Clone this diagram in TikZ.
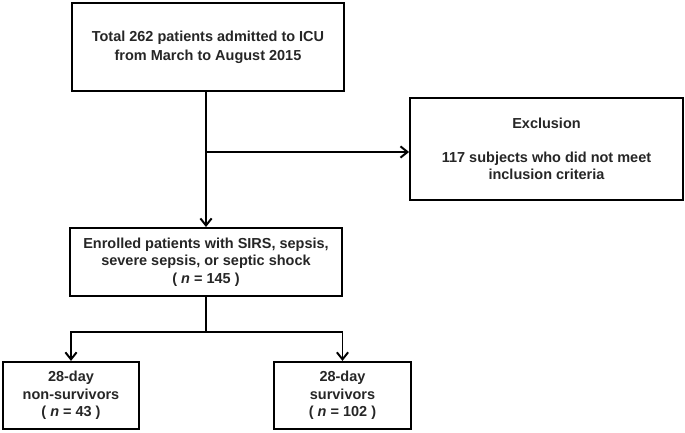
\documentclass[tikz,border=0pt]{standalone}
\usepackage{fontspec}
\setmainfont{Liberation Sans}
\usepackage{tikz}
\usetikzlibrary{positioning, calc, arrows.meta}
\newcommand{\nn}{\textit{n}}

\begin{document}
\begin{tikzpicture}[x=0.025cm, y=-0.025cm,
    flowbox/.style={draw, line width=1.4pt, align=center, inner sep=2pt,
      font=\fontsize{10.3}{12.3}\selectfont\bfseries, text=black!85},
    flowline/.style={line width=1.4pt, -{Straight Barb[length=5pt, width=8pt, line width=1.4pt]}}]
      \useasboundingbox (0,0) rectangle (685,433);

      \node[flowbox, minimum width=6.8cm, minimum height=2.2cm] (ADM) at (208,47) {Total 262 patients admitted to ICU\\[1.2pt]from March to August 2015};

      \node[flowbox, minimum width=6.82cm, minimum height=2.55cm] (EXC) at (546.5,149) {Exclusion\\[11.5pt]117 subjects who did not meet\\inclusion criteria};

      \node[flowbox, minimum width=6.8cm, minimum height=1.7cm] (ENR) at (206,262) {Enrolled patients with SIRS, sepsis,\\severe sepsis, or septic shock\\( \nn{} = 145 )};

      \node[flowbox, minimum width=3.4cm, minimum height=1.68cm] (NONSURV) at (71,395.5) {28-day\\non-survivors\\( \nn{} = 43 )};
      \node[flowbox, minimum width=3.42cm, minimum height=1.68cm] (SURV) at (342.5,395.5) {28-day\\survivors\\( \nn{} = 102 )};

      \coordinate (SPLIT) at (206,152);
      \coordinate (FORK) at (206,332);

      \draw[flowline] (ADM.south -| SPLIT) -- (ENR.north -| SPLIT);
      \draw[flowline] (SPLIT) -- (SPLIT -| EXC.west);
      \draw[line width=1.4pt] (ENR.south -| FORK) -- (FORK);
      \draw[flowline] (FORK) -| (NONSURV.north);
      \draw[flowline] (FORK) -| (SURV.north);
    \end{tikzpicture}
\end{document}
